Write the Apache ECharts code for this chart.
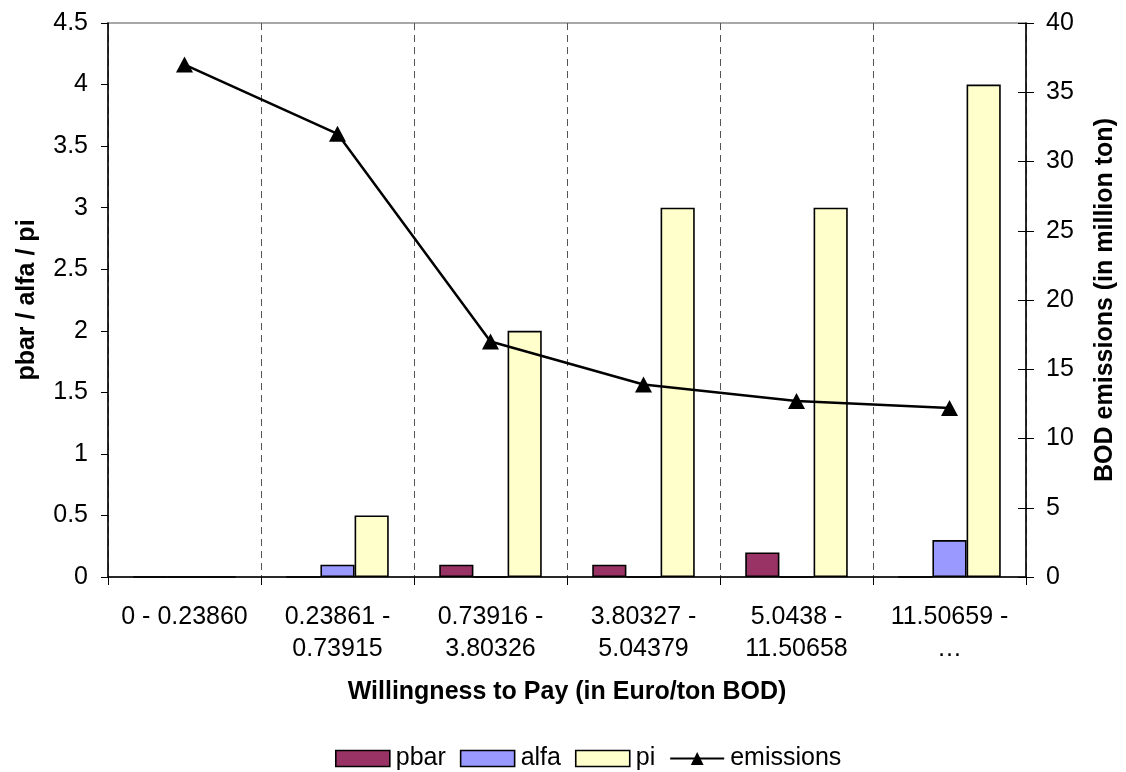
<!DOCTYPE html>
<html>
<head>
<meta charset="utf-8">
<script src="https://cdn.jsdelivr.net/npm/echarts@6/dist/echarts.min.js"></script>
<style>
  html, body { margin: 0; padding: 0; background: #fff; }
  #chart { width: 1126px; height: 772px; }
</style>
</head>
<body>
<div id="chart"></div>
<script>
// Willingness-to-pay classes (Euro/ton BOD)
const categories = [
  '0 - 0.23860',
  '0.23861 -\n0.73915',
  '0.73916 -\n3.80326',
  '3.80327 -\n5.04379',
  '5.0438 -\n11.50658',
  '11.50659 -\n\u2026'
];
// Left-axis series
const pbar = [0, 0, 0.1, 0.1, 0.2, 0];
const alfa = [0, 0.1, 0, 0, 0, 0.3];
const pi = [0, 0.5, 2, 3, 3, 4];
// Right-axis series: BOD emissions in million ton
const emissions = [37, 32, 17, 13.9, 12.7, 12.2];

const FONT = "'Liberation Sans', Arial, sans-serif";
const FS = 25;

const chart = echarts.init(document.getElementById('chart'), null, { renderer: 'canvas' });

const barStyle = (color) => ({ color: color, borderColor: '#000', borderWidth: 1.6 });
const legendBox = { borderColor: '#000', borderWidth: 1.6 };

chart.setOption({
  animation: false,
  textStyle: { fontFamily: FONT },
  grid: {
    left: 108, right: 93, top: 23, bottom: 195,
    show: true, borderColor: '#8c8c8c', borderWidth: 1.5, backgroundColor: 'transparent'
  },
  legend: {
    top: 741,
    left: 330,
    itemWidth: 54,
    itemHeight: 16,
    itemGap: 14,
    textStyle: { fontFamily: FONT, fontSize: FS, color: '#000', padding: [0, 0, 0, 1] },
    data: [
      { name: 'pbar', icon: 'rect', itemStyle: legendBox },
      { name: 'alfa', icon: 'rect', itemStyle: legendBox },
      { name: 'pi', icon: 'rect', itemStyle: legendBox },
      { name: 'emissions' }
    ]
  },
  xAxis: {
    type: 'category',
    data: categories,
    boundaryGap: true,
    name: 'Willingness to Pay (in Euro/ton BOD)',
    nameLocation: 'middle',
    nameGap: 103,
    nameTextStyle: { fontFamily: FONT, fontSize: FS, fontWeight: 'bold', color: '#000' },
    axisLine: { lineStyle: { color: '#000', width: 1.5 } },
    axisTick: { show: true, length: 8, lineStyle: { color: '#000', width: 1 } },
    axisLabel: { fontFamily: FONT, fontSize: FS, color: '#000', margin: 24, lineHeight: 32, interval: 0 },
    splitLine: { show: true, interval: 0, lineStyle: { color: '#555', type: [7, 5], width: 1 } }
  },
  yAxis: [
    {
      type: 'value',
      min: 0, max: 4.5, interval: 0.5,
      position: 'left',
      name: 'pbar / alfa / pi',
      nameLocation: 'middle',
      nameGap: 68,
      nameTextStyle: { fontFamily: FONT, fontSize: FS, fontWeight: 'bold', color: '#000' },
      axisLine: { show: true, lineStyle: { color: '#000', width: 1.5 } },
      axisTick: { show: true, length: 7, lineStyle: { color: '#000', width: 1 } },
      axisLabel: { fontFamily: FONT, fontSize: FS, color: '#000', margin: 20 },
      splitLine: { show: false }
    },
    {
      type: 'value',
      min: 0, max: 40, interval: 5,
      position: 'right',
      name: 'BOD emissions (in million ton)',
      nameLocation: 'middle',
      nameGap: 67,
      nameRotate: 90,
      nameTextStyle: { fontFamily: FONT, fontSize: FS, fontWeight: 'bold', color: '#000' },
      axisLine: { show: true, lineStyle: { color: '#000', width: 1.5 } },
      axisTick: { show: true, length: 8, lineStyle: { color: '#000', width: 1 } },
      axisLabel: { fontFamily: FONT, fontSize: FS, color: '#000', margin: 20 },
      splitLine: { show: false }
    },
    {
      // inner half of the crossing ticks on the right axis
      type: 'value',
      min: 0, max: 40, interval: 5,
      position: 'right',
      axisLine: { show: false },
      axisTick: { show: true, inside: true, length: 8, lineStyle: { color: '#000', width: 1 } },
      axisLabel: { show: false },
      splitLine: { show: false }
    }
  ],
  series: [
    {
      name: 'pbar', type: 'bar', yAxisIndex: 0, data: pbar,
      barGap: '0%', barCategoryGap: '33%',
      itemStyle: barStyle('#993366')
    },
    {
      name: 'alfa', type: 'bar', yAxisIndex: 0, data: alfa,
      barGap: '0%', barCategoryGap: '33%',
      itemStyle: barStyle('#9999FF')
    },
    {
      name: 'pi', type: 'bar', yAxisIndex: 0, data: pi,
      barGap: '0%', barCategoryGap: '33%',
      itemStyle: barStyle('#FFFFCC')
    },
    {
      name: 'emissions', type: 'line', yAxisIndex: 1, data: emissions,
      symbol: 'triangle', symbolSize: [17, 16],
      lineStyle: { color: '#000', width: 2.5 },
      itemStyle: { color: '#000' },
      z: 5
    }
  ]
});
</script>
</body>
</html>
